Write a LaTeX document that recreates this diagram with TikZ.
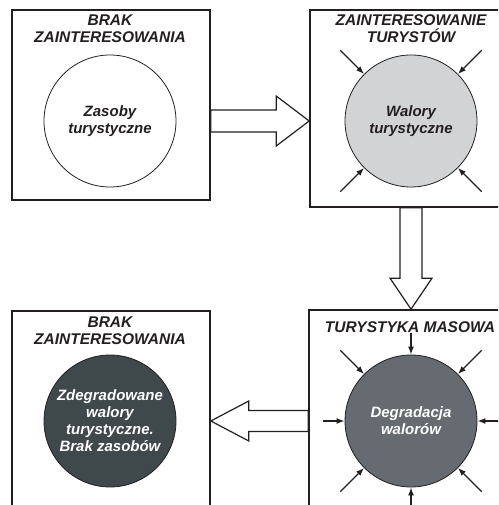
\documentclass[tikz,border=0pt]{standalone}
\usepackage{fontspec}
\setmainfont{Liberation Sans}
\usetikzlibrary{calc,arrows.meta}

\definecolor{ink}{HTML}{231F20}
\definecolor{lightball}{HTML}{D2D3D5}
\definecolor{midball}{HTML}{656B70}
\definecolor{darkball}{HTML}{3F484B}

\tikzset{
  frame/.style={draw=ink, line width=1.6pt, inner sep=0pt},
  ball/.style={circle, draw=ink, line width=0.8pt, minimum size=132pt, inner sep=0pt,
    align=center, text=ink, font=\fontsize{15}{17}\selectfont\bfseries\itshape},
  heading/.style={align=center, inner sep=0pt, text=ink,
    font=\fontsize{15.5}{17}\selectfont\bfseries\itshape},
  hollow/.style={draw=ink, line width=1.2pt, fill=white, line join=miter},
  press/.style={draw=ink, -{Latex[length=8pt,width=6pt]}, line width=1.3pt},
}

\begin{document}
\begin{tikzpicture}[x=1pt,y=1pt]
    \useasboundingbox (0,0) rectangle (498,505);
    \clip (0,0) rectangle (498,505);
    % frames
    \node[frame, minimum width=198pt, minimum height=190pt] (tlbox) at (111,400) {};
    \node[frame, minimum width=230pt, minimum height=197pt] (trbox) at (425,396.5) {};
    \node[frame, minimum width=198pt, minimum height=224pt] (blbox) at (111,82) {};
    \node[frame, minimum width=231pt, minimum height=225pt] (brbox) at (424.5,82.5) {};
    % headings
    \node[heading] (tlhead) at (110,476.5) {BRAK\\ZAINTERESOWANIA};
    \node[heading] (trhead) at (411,476) {ZAINTERESOWANIE\\TURYSTÓW};
    \node[heading] (blhead) at (110,174.5) {BRAK\\ZAINTERESOWANIA};
    \node[heading] (brhead) at (410,178) {TURYSTYKA MASOWA};
    % circles
    \node[ball, fill=white] (tlc) at (110,384) {Zasoby\\turystyczne};
    \node[ball, fill=lightball] (trc) at (411,384) {Walory\\turystyczne};
    \node[ball, fill=darkball, text=white] (blc) at (110,84) {Zdegradowane\\walory\\turystyczne.\\Brak zasobów};
    \node[ball, fill=midball, text=white] (brc) at (411,84) {Degradacja\\walorów};
    % small arrows
    \foreach \a in {45,135,225,315} {
      \draw[press] ($(trc)+(\a:100)$) -- (trc.\a);
      \draw[press] ($(brc)+(\a:100)$) -- (brc.\a);
    }
    \foreach \a in {0,90,180,270}
      \draw[press] ($(brc)+(\a:88)$) -- (brc.\a);
    % big hollow arrows
    \coordinate (a1s) at (tlbox.east |- tlc);
    \coordinate (a1e) at (trbox.west |- tlc);
    \draw[hollow] ($(a1s)+(0,-11)$) -- ($(a1e)+(-33,-11)$) -- ($(a1e)+(-33,-25)$) -- (a1e)
      -- ($(a1e)+(-33,25)$) -- ($(a1e)+(-33,11)$) -- ($(a1s)+(0,11)$) -- cycle;
    \coordinate (a2s) at (trbox.south -| brc);
    \coordinate (a2e) at (brbox.north -| brc);
    \draw[hollow] ($(a2s)+(-11,0)$) -- ($(a2e)+(-11,31)$) -- ($(a2e)+(-21,31)$) -- (a2e)
      -- ($(a2e)+(21,31)$) -- ($(a2e)+(11,31)$) -- ($(a2s)+(11,0)$) -- cycle;
    \coordinate (a3s) at (brbox.west |- blc);
    \coordinate (a3e) at (blbox.east |- blc);
    \draw[hollow] ($(a3s)+(0,10.5)$) -- ($(a3e)+(38,10.5)$) -- ($(a3e)+(38,20)$) -- (a3e)
      -- ($(a3e)+(38,-20)$) -- ($(a3e)+(38,-10.5)$) -- ($(a3s)+(0,-10.5)$) -- cycle;
\end{tikzpicture}
\end{document}
